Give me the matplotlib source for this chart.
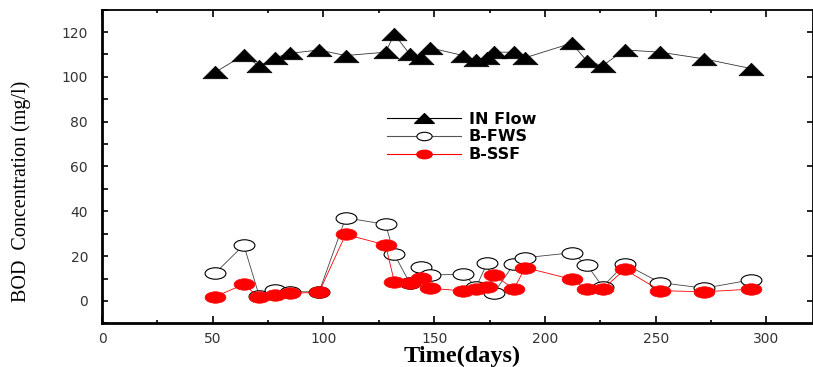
import matplotlib
matplotlib.use("Agg")
import matplotlib.pyplot as plt
from matplotlib.path import Path
from matplotlib.lines import Line2D
from matplotlib.transforms import Affine2D
from matplotlib.ticker import MultipleLocator

# Sampling days and BOD concentrations (mg/l)
days = [51, 64, 71, 78, 85, 98, 110, 128, 132, 139, 144, 148, 163,
        169, 174, 177, 186, 191, 212, 219, 226, 236, 252, 272, 293]
in_flow = [102, 109.7, 104.8, 108.5, 110.5, 112, 109.5, 111, 119, 110,
           108.5, 113, 109.5, 107.3, 108.5, 111, 111, 108.5, 115, 107,
           105, 112, 111, 108, 103.7]
b_fws = [12.3, 25, 2.2, 4.9, 4.2, 4, 37.1, 34.2, 20.8, 7.9, 15, 11.6,
         11.9, 6.4, 17.1, 3.7, 16.5, 19.3, 21.5, 16, 6.4, 16.5, 8.2,
         5.7, 9.4]
b_ssf = [1.9, 7.4, 1.6, 2.5, 3.4, 3.9, 29.7, 25, 8.6, 8.2, 10.1, 5.7,
         4.5, 5.3, 6.4, 11.6, 5.3, 14.9, 9.7, 5.2, 5.2, 14.1, 4.6, 4.1,
         5.3]

# wide (flattened) symbols
tri = Path([(-1, -0.5), (1, -0.5), (0, 0.5), (-1, -0.5)],
           [Path.MOVETO, Path.LINETO, Path.LINETO, Path.CLOSEPOLY])
ell = Path.unit_circle().transformed(Affine2D().scale(1, 0.55))

fig = plt.figure(figsize=(8.13, 3.67), dpi=100)
ax = fig.add_axes([102 / 813, 1 - 323.4 / 367, 711 / 813, 313.8 / 367])

ax.plot(days, b_fws, color="#444444", lw=0.6, marker=ell, ms=15,
        mfc="white", mec="black", mew=0.8, zorder=2)
ax.plot(days, b_ssf, color="red", lw=0.6, marker=ell, ms=15,
        mfc="red", mec="red", mew=0.5, zorder=3)
ax.plot(days, in_flow, color="#333333", lw=0.6, marker=tri, ms=18,
        mfc="black", mec="black", mew=0.5, zorder=4)

ax.set_xlim(0, 321)
ax.set_ylim(-10, 130)

ax.xaxis.set_major_locator(MultipleLocator(50))
ax.xaxis.set_minor_locator(MultipleLocator(25))
ax.yaxis.set_major_locator(MultipleLocator(20))
ax.yaxis.set_minor_locator(MultipleLocator(10))
ax.tick_params(axis="both", which="both", direction="in", color="black")
ax.tick_params(axis="x", which="major", length=5, width=1.2, pad=6,
               top=True, labelsize=10, labelcolor="#333333")
ax.tick_params(axis="x", which="minor", length=2, width=1.2, top=True)
ax.tick_params(axis="y", which="major", length=4, width=1.2, pad=10,
               right=True, labelsize=10, labelcolor="#333333")
ax.tick_params(axis="y", which="minor", length=4, width=1.2)

for side in ["left", "bottom"]:
    ax.spines[side].set_linewidth(2)
ax.spines["top"].set_linewidth(1.3)
ax.spines["right"].set_linewidth(1.3)

fig.text(462 / 813, 1 - 356 / 367, "Time(days)", family="Liberation Serif",
         fontweight="bold", fontsize=17.5, ha="center", va="center")
fig.text(21 / 813, 1 - 191 / 367, "BOD  Concentration (mg/l)",
         family="Liberation Serif", fontsize=14.5, rotation=90,
         ha="center", va="center")

handles = [
    Line2D([], [], color="black", lw=0.8, marker=tri, ms=14, mfc="black",
           mec="black"),
    Line2D([], [], color="#555555", lw=0.8, marker=ell, ms=11, mfc="white",
           mec="black", mew=0.8),
    Line2D([], [], color="red", lw=0.8, marker=ell, ms=11, mfc="red",
           mec="red"),
]
ax.legend(handles, ["IN Flow", "B-FWS", "B-SSF"], frameon=False,
          loc="upper left", bbox_to_anchor=(0.39, 0.70), handlelength=4.6,
          handletextpad=0.5, labelspacing=0.17, borderpad=0,
          prop={"family": "DejaVu Sans", "weight": "bold", "size": 11.5})

fig.savefig("out.png", dpi=100)
